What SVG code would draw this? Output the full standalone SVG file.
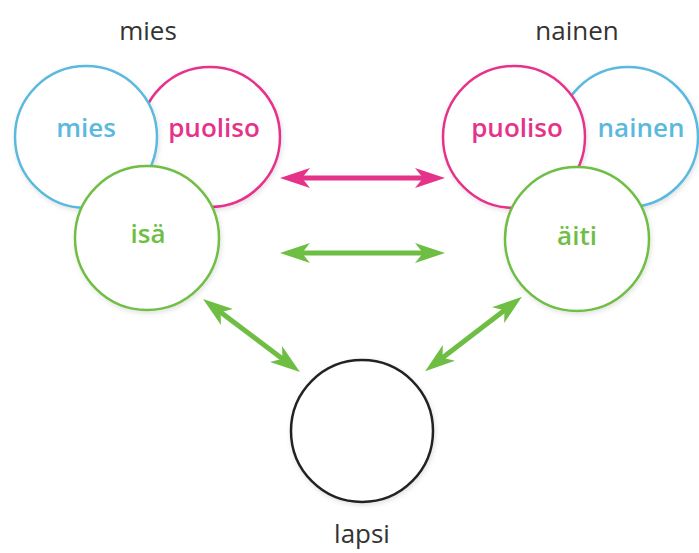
<svg xmlns="http://www.w3.org/2000/svg" width="699" height="553" viewBox="0 0 699 553">
  <defs>
    <filter id="sh" x="-20%" y="-20%" width="140%" height="140%">
      <feDropShadow dx="1" dy="2" stdDeviation="2.5" flood-color="#000" flood-opacity="0.12"/>
    </filter>
    <marker id="hp" viewBox="0 0 30 20" refX="15" refY="10" markerWidth="30" markerHeight="20" markerUnits="userSpaceOnUse" orient="auto-start-reverse">
      <path d="M30,10 L0,0 L8,10 L0,20 Z" fill="#e6338a"/>
    </marker>
    <marker id="hg" viewBox="0 0 30 20" refX="15" refY="10" markerWidth="30" markerHeight="20" markerUnits="userSpaceOnUse" orient="auto-start-reverse">
      <path d="M30,10 L0,0 L8,10 L0,20 Z" fill="#6fbe44"/>
    </marker>
  </defs>
  <style>
    text { font-family: "Open Sans", "Noto Sans", "Liberation Sans", sans-serif; font-size: 26px; text-anchor: middle; }
    .c { fill: #fff; stroke-width: 2.5; filter: url(#sh); }
    .blue { stroke: #5cb9de; }
    .pink { stroke: #e6338a; }
    .green { stroke: #6fbe44; }
    .black { stroke: #222; }
    .tb { fill: #5cb9de; font-weight: 600; }
    .tp { fill: #e6338a; font-weight: 600; }
    .tg { fill: #6fbe44; font-weight: 600; }
    .tk { fill: #333; font-weight: 500; }
    .ap { stroke: #e6338a; stroke-width: 5; fill: none; marker-start: url(#hp); marker-end: url(#hp); }
    .ag { stroke: #6fbe44; stroke-width: 5; fill: none; marker-start: url(#hg); marker-end: url(#hg); }
  </style>
  <rect width="699" height="553" fill="#fff"/>

  <g id="mies-label"><text x="148" y="40" class="tk">mies</text></g>
  <g id="nainen-label"><text x="577" y="40" class="tk">nainen</text></g>

  <g id="puoliso-left">
    <circle cx="210" cy="137" r="70" class="c pink"/>
    <text x="214" y="137" class="tp">puoliso</text>
  </g>
  <g id="mies">
    <circle cx="86" cy="137" r="71" class="c blue"/>
    <text x="86" y="137" class="tb">mies</text>
  </g>
  <g id="isa">
    <circle cx="147" cy="238" r="72" class="c green"/>
    <text x="148" y="243" class="tg">isä</text>
  </g>

  <g id="nainen">
    <circle cx="628" cy="137" r="70" class="c blue"/>
    <text x="641" y="137" class="tb">nainen</text>
  </g>
  <g id="puoliso-right">
    <circle cx="514" cy="137" r="71" class="c pink"/>
    <text x="517" y="137" class="tp">puoliso</text>
  </g>
  <g id="aiti">
    <circle cx="577" cy="239" r="72" class="c green"/>
    <text x="577" y="245" class="tg">äiti</text>
  </g>

  <g id="lapsi">
    <circle cx="362" cy="431" r="71" class="c black"/>
    <text x="362" y="543" class="tk">lapsi</text>
  </g>

  <g id="connectors">
    <line x1="295" y1="178" x2="430" y2="178" class="ap"/>
    <line x1="295" y1="253" x2="430" y2="253" class="ag"/>
    <line x1="215" y1="308" x2="288" y2="363" class="ag"/>
    <line x1="510" y1="306" x2="437" y2="362" class="ag"/>
  </g>
</svg>
